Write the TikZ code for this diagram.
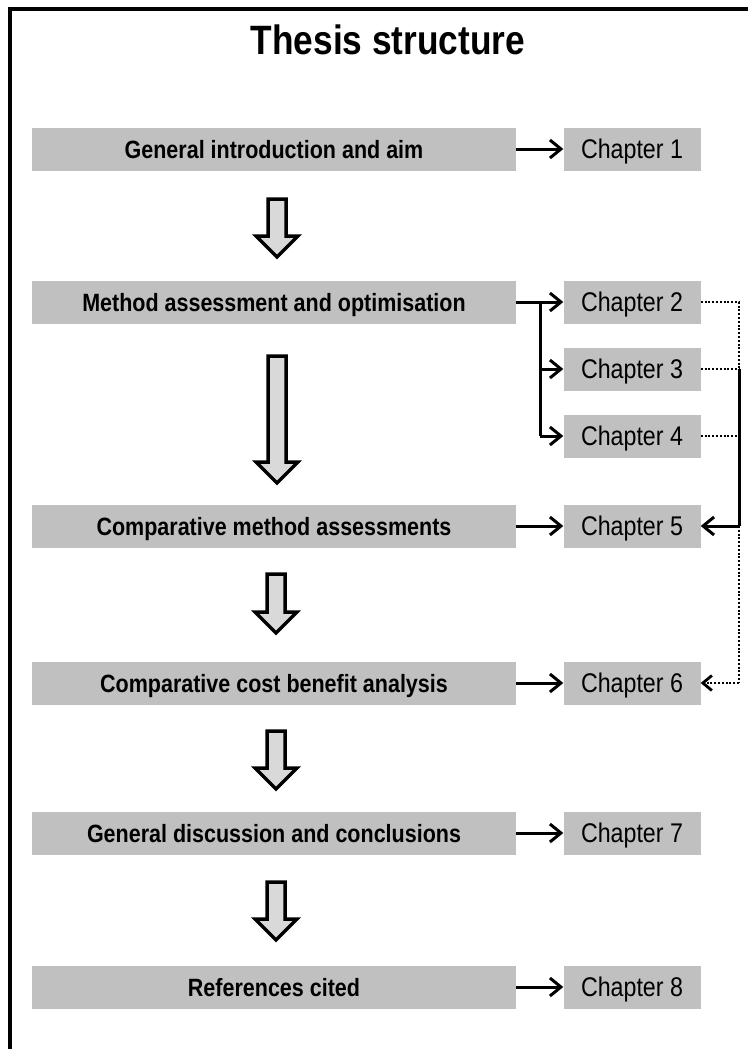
\documentclass[tikz,border=0pt]{standalone}
\usepackage{fontspec}
\setmainfont{Liberation Sans}[FakeStretch=0.86]
\usetikzlibrary{arrows.meta}

\definecolor{boxgray}{RGB}{192,192,192}
\definecolor{arrowgray}{RGB}{217,217,217}

\tikzset{
  stage/.style={fill=boxgray, minimum width=484pt, minimum height=43pt, inner sep=0pt,
    text height=18pt, text depth=0pt, font=\fontsize{25}{28}\selectfont\bfseries},
  chap/.style={fill=boxgray, minimum width=137pt, minimum height=43pt, inner sep=0pt,
    text height=19pt, text depth=0pt, font=\fontsize{27}{30}\selectfont},
  link/.style={line width=3pt, -{Straight Barb[length=11pt,width=18pt]}},
  plainlink/.style={line width=3pt},
  dotlink/.style={line width=2.8pt, dash pattern=on 2pt off 1.8pt},
  dotend/.style={dotlink, -{Straight Barb[length=9pt,width=15pt]}},
  fatarrow/.style={draw, line width=3.5pt, fill=arrowgray, line join=miter},
  pics/downarrow/.style={code={
    \draw[fatarrow] (-9,0) -- (9,0) -- (9,{#1-21}) -- (21,{#1-21}) -- (0,#1)
      -- (-21,{#1-21}) -- (-9,{#1-21}) -- cycle;
  }},
}

\begin{document}
\begin{tikzpicture}[x=1pt, y=-1pt]
    \useasboundingbox (0,0) rectangle (748,1049);
    \draw[line width=3.5pt] (10,1049) -- (10,9) -- (748,9);

    \node at (388,40) (title) {\fontsize{41}{44}\selectfont\bfseries Thesis structure};

    % stages of the thesis
    \node[stage] at (274,149) (S1) {General introduction and aim};
    \node[stage] at (274,302) (S2) {Method assessment and optimisation};
    \node[stage] at (274,526) (S3) {Comparative method assessments};
    \node[stage] at (274,683) (S4) {Comparative cost benefit analysis};
    \node[stage] at (274,833) (S5) {General discussion and conclusions};
    \node[stage] at (274,987) (S6) {References cited};

    % chapters
    \node[chap] at (632,149) (C1) {Chapter 1};
    \node[chap] at (632,302) (C2) {Chapter 2};
    \node[chap] at (632,369) (C3) {Chapter 3};
    \node[chap] at (632,436) (C4) {Chapter 4};
    \node[chap] at (632,526) (C5) {Chapter 5};
    \node[chap] at (632,683) (C6) {Chapter 6};
    \node[chap] at (632,833) (C7) {Chapter 7};
    \node[chap] at (632,987) (C8) {Chapter 8};

    % flow between the stages
    \pic at (277,199) {downarrow=58};
    \pic at (277,356) {downarrow=127};
    \pic at (276,574) {downarrow=59};
    \pic at (276,731) {downarrow=58};
    \pic at (276,882) {downarrow=58};

    % stage to chapter
    \path [link] (S1) edge (C1);
    \path [link] (S2) edge (C2);
    \path [link] (S3) edge (C5);
    \path [link] (S4) edge (C6);
    \path [link] (S5) edge (C7);
    \path [link] (S6) edge (C8);

    \coordinate (B2) at (540,302);
    \coordinate (B3) at (540,369);
    \coordinate (B4) at (540,436);
    \draw[plainlink] (B2) -- (B4);
    \path [link] (B3) edge (C3);
    \path [link] (B4) edge (C4);

    % chapters feeding later chapters
    \coordinate (R2) at (739,302);
    \coordinate (R3) at (739,369);
    \coordinate (R4) at (739,436);
    \coordinate (R5) at (739,526);
    \coordinate (R6) at (739,683);
    \draw[dotlink] (C2.east) -- (R2) -- (R6);
    \draw[dotend] (R6) -- (C6.east);
    \draw[dotlink] (C3.east) -- (R3);
    \draw[dotlink] (C4.east) -- (R4);
    \draw[plainlink] (R3) -- (R5);
    \draw[link] (R5) -- (C5.east);
\end{tikzpicture}
\end{document}
